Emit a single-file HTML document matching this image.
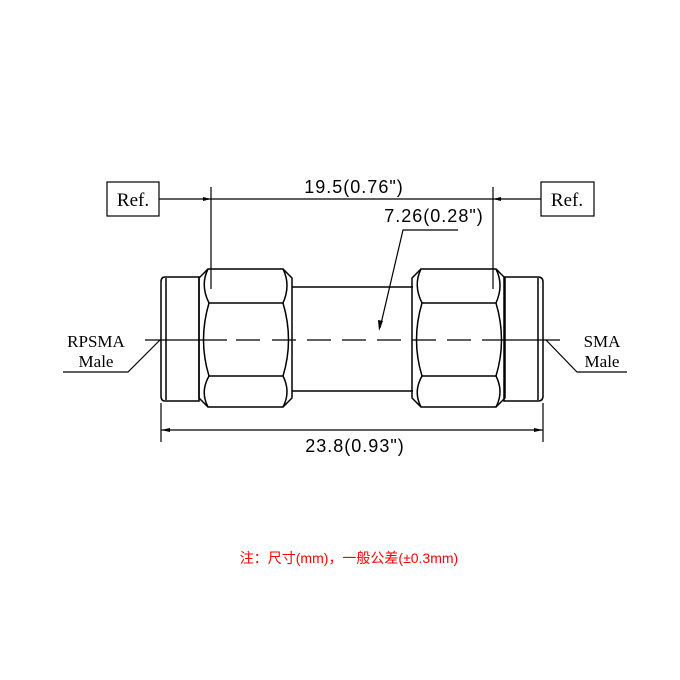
<!DOCTYPE html>
<html><head><meta charset="utf-8"><style>
html,body{margin:0;padding:0;background:#fff;width:680px;height:680px;overflow:hidden}
svg{display:block}
</style></head><body>
<svg width="680" height="680" viewBox="0 0 680 680" xmlns="http://www.w3.org/2000/svg">
<defs>
<g id="hex" fill="none" stroke="#000" stroke-width="1.5">
  <path d="M208,269 L283,269 L292,278 L292,398 L283,407 L208,407 L199,398 L199,278 Z"/>
  <path d="M208,269 Q200,285 209,303 M283,269 Q291,285 283,303"/>
  <path d="M209,303 L283,303 M209,376 L283,376"/>
  <path d="M209,303 Q198,340 209,376 M283,303 Q294,340 283,376"/>
  <path d="M209,376 Q200,392 208,407 M283,376 Q291,392 283,407"/>
</g>
</defs>
<g fill="none" stroke="#000" stroke-width="1.5">
  <path d="M165,277 L199,277 L199,401 L165,401 Q161,401 161,396 L161,282 Q161,277 165,277 Z"/>
  <line x1="166" y1="278" x2="166" y2="400"/>
  <path d="M504,277 L538,277 Q543,277 543,282 L543,396 Q543,401 538,401 L504,401 Z"/>
  <line x1="538" y1="278" x2="538" y2="400"/>
  <line x1="292" y1="287" x2="413" y2="287"/>
  <line x1="292" y1="391" x2="413" y2="391"/>
</g>
<use href="#hex"/>
<use href="#hex" transform="translate(213,0)"/>
<g stroke="#000" stroke-width="1.2" fill="none">
  <path d="M145,340 L227,340 M236,340 L260,340 M272,340 L296,340 M307,340 L331,340 M342,340 L366,340 M377,340 L401,340 M412,340 L436,340 M447,340 L471,340 M482,340 L560,340"/>
  <rect x="107" y="182" width="52" height="34"/>
  <rect x="541" y="182" width="53" height="34"/>
  <line x1="159" y1="199" x2="541" y2="199"/>
  <line x1="211" y1="187" x2="211" y2="289"/>
  <line x1="493" y1="187" x2="493" y2="289"/>
  <line x1="161" y1="403" x2="161" y2="442"/>
  <line x1="543" y1="403" x2="543" y2="442"/>
  <line x1="161" y1="430" x2="543" y2="430"/>
  <polyline points="458,230 403,230 380,328"/>
  <polyline points="160,340 128,372 63,372"/>
  <polyline points="546,340 577,372 627,372"/>
</g>
<g fill="#000">
  <polygon points="211,199 203,197 203,201"/>
  <polygon points="493,199 501,197 501,201"/>
  <polygon points="161,430 170,428 170,432"/>
  <polygon points="543,430 534,428 534,432"/>
  <polygon points="379,331 378,320 383,321"/>
</g>
<g font-family="Liberation Serif, serif" font-size="19" fill="#000">
  <text x="133" y="206" text-anchor="middle">Ref.</text>
  <text x="567" y="206" text-anchor="middle">Ref.</text>
  <text x="96" y="347" text-anchor="middle" font-size="17">RPSMA</text>
  <text x="96" y="367" text-anchor="middle" font-size="17">Male</text>
  <text x="602" y="347" text-anchor="middle" font-size="17">SMA</text>
  <text x="602" y="367" text-anchor="middle" font-size="17">Male</text>
</g>
<g font-family="Liberation Sans, sans-serif" font-size="18" fill="#000" letter-spacing="1">
  <text x="354" y="193" text-anchor="middle">19.5(0.76")</text>
  <text x="434" y="222" text-anchor="middle">7.26(0.28")</text>
  <text x="355" y="452" text-anchor="middle">23.8(0.93")</text>
</g>
<text x="349" y="563" text-anchor="middle" font-family="Liberation Sans, Noto Sans CJK SC, sans-serif" font-size="14" fill="#ff0000">注：尺寸(mm)，一般公差(±0.3mm)</text>
</svg>
</body></html>
